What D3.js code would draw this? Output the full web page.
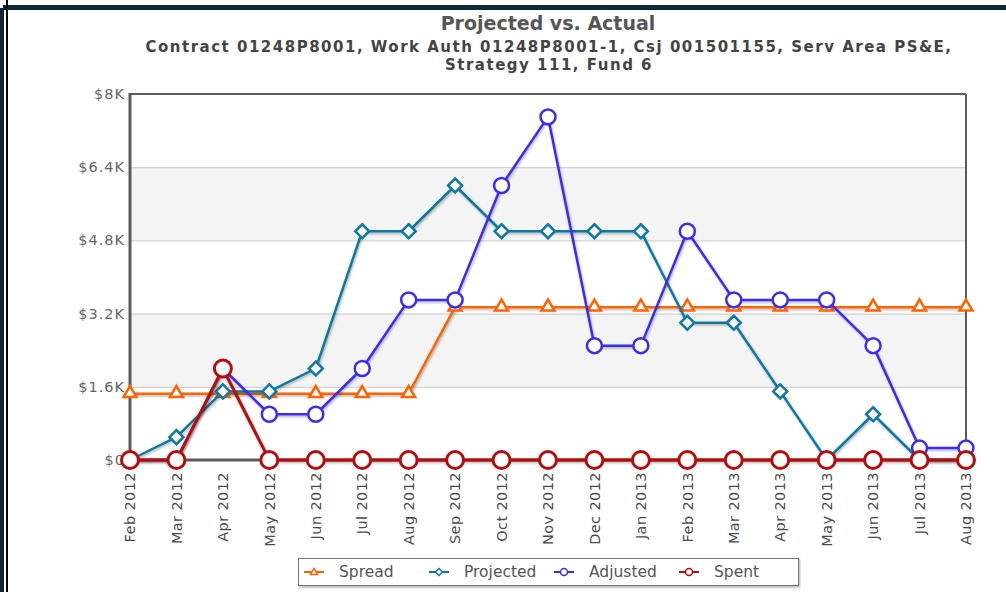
<!DOCTYPE html>
<html>
<head>
<meta charset="utf-8">
<script src="https://cdn.jsdelivr.net/npm/d3@7"></script>
<style>
  body { margin: 0; background: #fff; }
  text { font-family: "DejaVu Sans", Verdana, sans-serif; }
</style>
</head>
<body>
<div id="chart"></div>
<script>
// data
const months = ["Feb 2012", "Mar 2012", "Apr 2012", "May 2012", "Jun 2012", "Jul 2012", "Aug 2012",
                "Sep 2012", "Oct 2012", "Nov 2012", "Dec 2012", "Jan 2013", "Feb 2013", "Mar 2013",
                "Apr 2013", "May 2013", "Jun 2013", "Jul 2013", "Aug 2013"];
const spread    = [1450, 1450, 1450, 1450, 1450, 1450, 1450, 3340, 3340, 3340, 3340, 3340, 3340, 3340, 3340, 3340, 3340, 3340, 3340];
const projected = [0, 500, 1500, 1500, 2000, 5000, 5000, 6000, 5000, 5000, 5000, 5000, 3000, 3000, 1500, 0, 1000, 0, 0];
const adjusted  = [0, 0, 2000, 1000, 1000, 2000, 3500, 3500, 6000, 7500, 2500, 2500, 5000, 3500, 3500, 3500, 2500, 260, 260];
const spent     = [0, 0, 2000, 0, 0, 0, 0, 0, 0, 0, 0, 0, 0, 0, 0, 0, 0, 0, 0];
const yTicks = [0, 1600, 3200, 4800, 6400, 8000];
const yTickLabels = ["$0", "$1.6K", "$3.2K", "$4.8K", "$6.4K", "$8K"];
const seriesNames = ["Spread", "Projected", "Adjusted", "Spent"];

const width = 1006, height = 592;
const plot = {left: 130, right: 966, top: 94, bottom: 460};

const series = [
  {name: "Spread",    values: spread,    color: "#ff6200", symbol: "triangle", size: 13, sw: 2.5},
  {name: "Projected", values: projected, color: "#0f78a3", symbol: "diamond",  size: 14, sw: 2.5},
  {name: "Adjusted",  values: adjusted,  color: "#3a2cf5", symbol: "circle",   size: 7.5, sw: 2.5},
  {name: "Spent",     values: spent,     color: "#b80c0c", symbol: "circle",   size: 8.5, sw: 3}
];

let svg = d3.select("#chart")
  .append("svg")
  .attr("width", width)
  .attr("height", height);

let defs = svg.append("defs");
defs.append("filter").attr("id", "shadow")
  .attr("x", "-10%").attr("y", "-10%").attr("width", "130%").attr("height", "130%")
  .append("feDropShadow")
  .attr("dx", 1).attr("dy", 1.5).attr("stdDeviation", 1.2)
  .attr("flood-color", "#000").attr("flood-opacity", 0.3);

// outer frame
svg.append("rect").attr("x", 0).attr("y", 0).attr("width", width).attr("height", height).attr("fill", "#fff");
svg.append("rect").attr("x", 3).attr("y", 5).attr("width", width - 3).attr("height", 5).attr("fill", "#12263a");
svg.append("rect").attr("x", 0).attr("y", 8).attr("width", 4).attr("height", height - 8).attr("fill", "#12263a");
svg.append("rect").attr("x", 6).attr("y", 0).attr("width", 2).attr("height", height).attr("fill", "#050a10");

let x = d3.scalePoint()
  .domain(months)
  .range([plot.left, plot.right]);

let y = d3.scaleLinear()
  .domain([0, 8000])
  .range([plot.bottom, plot.top]);

// alternate bands
for (let i = 0; i < yTicks.length - 1; i++) {
  if (i % 2 === 1) {
    svg.append("rect")
      .attr("x", plot.left)
      .attr("y", y(yTicks[i + 1]))
      .attr("width", plot.right - plot.left)
      .attr("height", y(yTicks[i]) - y(yTicks[i + 1]))
      .attr("fill", "#f4f4f4");
  }
}

// grid lines
svg.append("g")
  .attr("transform", `translate(${plot.left}, 0)`)
  .call(d3.axisLeft(y).tickValues(yTicks.slice(1, -1)).tickSize(-(plot.right - plot.left)).tickFormat(""))
  .call(g => g.select(".domain").remove())
  .call(g => g.selectAll("line").attr("stroke", "#c8c8c8"));

// y labels
svg.append("g")
  .selectAll("text")
  .data(yTicks)
  .enter()
  .append("text")
  .attr("x", plot.left - 5)
  .attr("y", d => y(d))
  .attr("dy", "0.35em")
  .attr("text-anchor", "end")
  .attr("fill", "#666")
  .style("font-size", "14.5px")
  .style("letter-spacing", "1px")
  .text((d, i) => yTickLabels[i]);

// x labels
svg.append("g")
  .selectAll("text")
  .data(months)
  .enter()
  .append("text")
  .attr("transform", d => `translate(${x(d)}, ${plot.bottom + 12}) rotate(-90)`)
  .attr("dy", "0.36em")
  .attr("text-anchor", "end")
  .attr("fill", "#4a4a4a")
  .style("font-size", "14.5px")
  .style("letter-spacing", "0.4px")
  .text(d => d);

// plot border
svg.append("line").attr("x1", plot.left).attr("x2", plot.right).attr("y1", plot.top).attr("y2", plot.top)
  .attr("stroke", "#5a5a5a").attr("stroke-width", 2);
svg.append("line").attr("x1", plot.right).attr("x2", plot.right).attr("y1", plot.top).attr("y2", plot.bottom)
  .attr("stroke", "#5a5a5a").attr("stroke-width", 2);
svg.append("line").attr("x1", plot.left).attr("x2", plot.left).attr("y1", plot.top - 1).attr("y2", plot.bottom + 1)
  .attr("stroke", "#5a5a5a").attr("stroke-width", 3);
svg.append("line").attr("x1", plot.left).attr("x2", plot.right).attr("y1", plot.bottom).attr("y2", plot.bottom)
  .attr("stroke", "#5a5a5a").attr("stroke-width", 3);

function symbolPath(type, s) {
  if (type === "triangle") {
    let h = s * 0.85;
    return `M0,${-h * 0.6}L${s / 2},${h * 0.4}L${-s / 2},${h * 0.4}Z`;
  }
  if (type === "diamond") {
    return `M0,${-s / 2}L${s / 2},0L0,${s / 2}L${-s / 2},0Z`;
  }
  return d3.arc()({innerRadius: 0, outerRadius: s, startAngle: 0, endAngle: 2 * Math.PI});
}

let line = d3.line()
  .x((d, i) => x(months[i]))
  .y(d => y(d));

series.forEach(function(s) {
  let g = svg.append("g");
  g.append("path")
    .datum(s.values)
    .attr("d", line)
    .attr("fill", "none")
    .attr("stroke", s.color)
    .attr("stroke-width", s.sw)
    .attr("stroke-linejoin", "round")
    .attr("filter", "url(#shadow)");
  g.selectAll("path.pt")
    .data(s.values)
    .enter()
    .append("path")
    .attr("class", "pt")
    .attr("transform", (d, i) => `translate(${x(months[i])}, ${y(d) + (s.symbol === "triangle" ? -1 : 0)})`)
    .attr("d", symbolPath(s.symbol, s.size))
    .attr("fill", "#fff")
    .attr("stroke", s.color)
    .attr("stroke-width", s.sw);
});

// title
svg.append("text")
  .attr("x", 548).attr("y", 30)
  .attr("text-anchor", "middle")
  .attr("fill", "#555")
  .style("font-size", "19px")
  .style("font-weight", "bold")
  .text("Projected vs. Actual");

let sub = svg.append("text")
  .attr("text-anchor", "middle")
  .attr("fill", "#444")
  .style("font-size", "15px")
  .style("font-weight", "bold")
  .style("letter-spacing", "1.5px");
sub.append("tspan").attr("x", 549).attr("y", 52)
  .text("Contract 01248P8001, Work Auth 01248P8001-1, Csj 001501155, Serv Area PS&E,");
sub.append("tspan").attr("x", 549).attr("y", 70)
  .text("Strategy 111, Fund 6");

// legend
let legend = svg.append("g");
legend.append("rect")
  .attr("x", 298.5).attr("y", 558.5).attr("width", 500).attr("height", 27)
  .attr("fill", "#fff").attr("stroke", "#777").attr("stroke-width", 1)
  .attr("filter", "url(#shadow)");

let items = legend.selectAll("g.item")
  .data(series)
  .enter()
  .append("g")
  .attr("class", "item")
  .attr("transform", (d, i) => `translate(${304 + i * 125}, 572)`);

items.append("line")
  .attr("x1", 0).attr("x2", 20).attr("y1", 0).attr("y2", 0)
  .attr("stroke", d => d.color).attr("stroke-width", 2);
items.append("path")
  .attr("transform", "translate(10, 0)")
  .attr("d", d => symbolPath(d.symbol, d.symbol === "circle" ? 3.5 : 7))
  .attr("fill", "#fff")
  .attr("stroke", d => d.color)
  .attr("stroke-width", 1.5);
items.append("text")
  .attr("x", 35).attr("y", 0)
  .attr("dy", "0.35em")
  .attr("fill", "#555")
  .style("font-size", "15.5px")
  .text((d, i) => seriesNames[i]);
</script>
</body>
</html>
